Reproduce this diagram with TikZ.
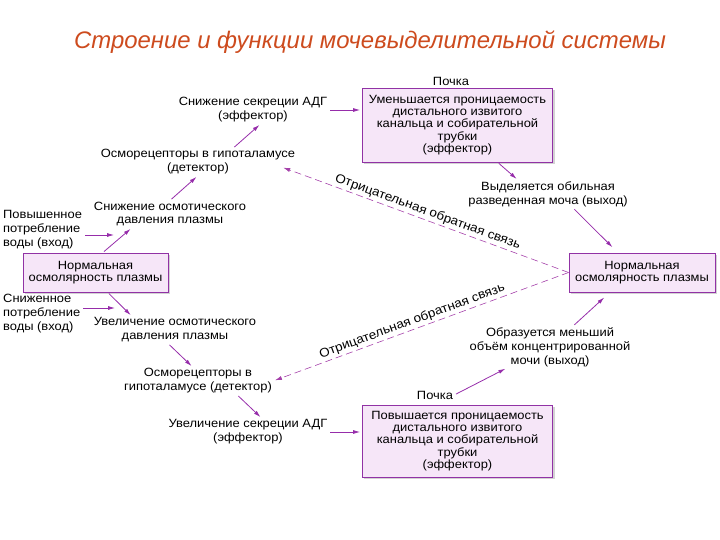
\documentclass[tikz,border=0pt]{standalone}
\usepackage{fontspec}
\setmainfont{Liberation Sans}[FakeStretch=1.08]
\newfontfamily\titlefont{Liberation Sans}
\usepackage{tikz}
\usetikzlibrary{arrows.meta,shadows,calc}
\definecolor{boxfill}{RGB}{246,230,248}
\definecolor{boxline}{RGB}{145,50,165}
\definecolor{arrcol}{RGB}{150,45,170}
\definecolor{fbcol}{RGB}{165,65,170}
\definecolor{titlecol}{RGB}{205,75,30}
\tikzset{
  txt/.style={align=center, inner sep=1pt, font=\fontsize{12}{14}\selectfont},
  ltxt/.style={txt, align=left, anchor=west},
  kbox/.style={draw=boxline, fill=boxfill, align=center, inner sep=2pt, font=\fontsize{12}{12.4}\selectfont,
    drop shadow={opacity=0.35, shadow xshift=2pt, shadow yshift=-2pt}},
  arr/.style={draw=arrcol, thick, -{Latex[length=7pt,width=4pt]}, shorten <=2pt, shorten >=2pt},
  fb/.style={draw=fbcol, semithick, dash pattern=on 7pt off 4pt, -{Latex[length=7pt,width=4pt]}, shorten >=2pt},
  fblab/.style={sloped, above, inner sep=2pt, font=\fontsize{12.5}{14}\selectfont}
}
\begin{document}
\begin{tikzpicture}[x=1bp, y=-1bp]
\useasboundingbox (0,0) rectangle (720,540);
\node[font=\titlefont\fontsize{24}{28}\selectfont\itshape, text=titlecol] (title) at (370,42) {Строение и функции мочевыделительной системы};
% upper branch
\node[kbox, minimum width=191, minimum height=74] (boxDec) at (457.5,125) {Уменьшается проницаемость\\дистального извитого\\канальца и собирательной\\трубки\\(эффектор)};
\node[txt] (kidneyTop) at (451,81) {Почка};
\node[txt] (adgDown) at (253,110) {Снижение секреции АДГ\\(эффектор)};
\node[txt] (osmoTop) at (198,162) {Осморецепторы в гипоталамусе\\(детектор)};
\node[txt] (osmDown) at (170,214) {Снижение осмотического\\давления плазмы};
\node[ltxt] (waterUp) at (2,230) {Повышенное\\потребление\\воды (вход)};
\node[txt] (urineMuch) at (548,194) {Выделяется обильная\\разведенная моча (выход)};
% normal
\node[kbox, minimum width=145, minimum height=39] (normL) at (95.5,272.5) {Нормальная\\осмолярность плазмы};
\node[kbox, minimum width=147, minimum height=39] (normR) at (642,272.5) {Нормальная\\осмолярность плазмы};
% lower branch
\node[ltxt] (waterDown) at (2,314) {Сниженное\\потребление\\воды (вход)};
\node[txt] (osmUp) at (175,330) {Увеличение осмотического\\давления плазмы};
\node[txt] (osmoBot) at (198,381) {Осморецепторы в\\гипоталамусе (детектор)};
\node[txt] (adgUp) at (248,432) {Увеличение секреции АДГ\\(эффектор)};
\node[txt] (kidneyBot) at (435,395) {Почка};
\node[kbox, minimum width=191, minimum height=72] (boxInc) at (457.5,441) {Повышается проницаемость\\дистального извитого\\канальца и собирательной\\трубки\\(эффектор)};
\node[txt] (urineLess) at (550,347) {Образуется меньший\\объём концентрированной\\мочи (выход)};
\coordinate (inUp) at (116,235);
\coordinate (inDn) at (117,308);
% arrows
\draw[arr] (waterUp.east |- inUp) -- (inUp);
\draw[arr] ([xshift=7pt]normL.north) -- ([xshift=-38pt]osmDown.south);
\draw[arr] (osmDown.north) -- (osmoTop.south);
\draw[arr] ([xshift=35pt]osmoTop.north) -- ([xshift=8pt]adgDown.south);
\draw[arr] (adgDown.east) -- (adgDown.east -| boxDec.west);
\draw[arr] ([xshift=40pt]boxDec.south) -- ([xshift=-30pt]urineMuch.north);
\draw[arr, shorten >=8pt] ([xshift=25pt]urineMuch.south) -- ([xshift=-24pt]normR.north);
\draw[arr] (waterDown.east |- inDn) -- (inDn);
\draw[arr] ([xshift=12pt]normL.south) -- ([xshift=-43pt]osmUp.north);
\draw[arr] ([xshift=-7pt]osmUp.south) -- ([xshift=-5pt]osmoBot.north);
\draw[arr] ([xshift=39pt]osmoBot.south) -- ([xshift=14pt]adgUp.north);
\draw[arr] (adgUp.east) -- (adgUp.east -| boxInc.west);
\draw[arr] (kidneyBot.east) -- ([xshift=-43pt]urineLess.south);
\draw[arr, shorten >=8pt] ([xshift=23pt]urineLess.north) -- ([xshift=-32pt]normR.south);
% feedback
\draw[fb] (normR.west) -- node[fblab, pos=0.5] (fbTop) {Отрицательная обратная связь} ([xshift=-15pt,yshift=-5pt]osmoTop.east);
\draw[fb] (normR.west) -- node[fblab, pos=0.52] (fbBot) {Отрицательная обратная связь} (osmoBot.east);
\end{tikzpicture}
\end{document}
